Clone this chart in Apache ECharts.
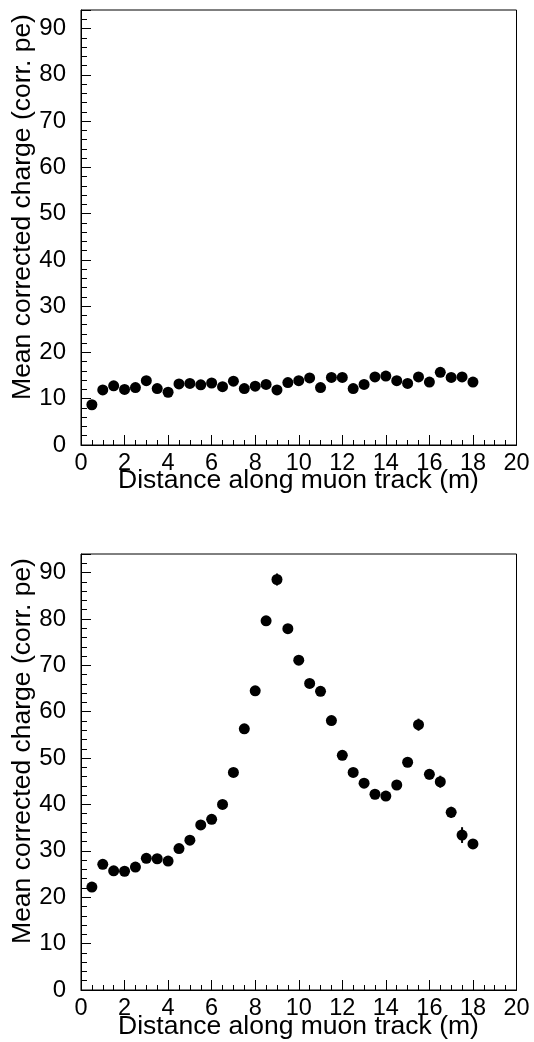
<!DOCTYPE html>
<html>
<head>
<meta charset="utf-8">
<script src="https://cdn.jsdelivr.net/npm/echarts@6/dist/echarts.min.js"></script>
<style>
html,body{margin:0;padding:0;background:#fff;}
#c{width:534px;height:1042px;}
</style>
</head>
<body>
<div id="c"></div>
<script>
// Distance along muon track (m)
var distances = [0.5,1.0,1.5,2.0,2.5,3.0,3.5,4.0,4.5,5.0,5.5,6.0,6.5,7.0,7.5,8.0,8.5,9.0,9.5,10.0,10.5,11.0,11.5,12.0,12.5,13.0,13.5,14.0,14.5,15.0,15.5,16.0,16.5,17.0,17.5,18.0];
// Top panel: mean corrected charge (corr. pe)
var topCharge = [8.7,11.9,12.8,12.0,12.4,13.9,12.2,11.4,13.2,13.3,13.0,13.4,12.6,13.8,12.2,12.7,13.1,11.9,13.5,13.9,14.5,12.4,14.6,14.6,12.2,13.1,14.7,14.9,13.9,13.3,14.7,13.6,15.7,14.6,14.7,13.6];
var topErr = [0.3,0.3,0.3,0.3,0.3,0.3,0.3,0.3,0.3,0.3,0.3,0.3,0.3,0.3,0.3,0.3,0.3,0.3,0.3,0.3,0.3,0.3,0.3,0.3,0.3,0.3,0.3,0.3,0.3,0.3,0.3,0.3,0.4,0.4,0.4,0.4];
// Bottom panel: mean corrected charge (corr. pe)
var botCharge = [22.2,27.1,25.7,25.6,26.5,28.4,28.3,27.8,30.5,32.3,35.6,36.8,40.0,46.9,56.3,64.5,79.6,88.5,77.9,71.1,66.1,64.4,58.1,50.6,46.9,44.6,42.2,41.8,44.2,49.1,57.2,46.5,44.9,38.3,33.4,31.5];
var botErr = [0.4,0.4,0.4,0.4,0.4,0.5,0.5,0.5,0.5,0.5,0.6,0.6,0.6,0.7,0.8,0.9,1.0,1.3,1.0,0.9,0.9,0.9,0.9,0.8,0.8,0.8,0.8,0.8,0.9,1.0,1.3,1.1,1.3,1.2,1.7,1.0];
// Axis settings
var xMin = 0, xMax = 20, xStep = 2;
var yMin = 0, yMax = 94, yStep = 10;
var xTitle = 'Distance along muon track (m)';
var yTitle = 'Mean corrected charge (corr. pe)';

var FONT = 'Liberation Sans, Arial, Helvetica, sans-serif';
var chart = echarts.init(document.getElementById('c'), null, {renderer:'canvas'});

function pts(v){ return distances.map(function(x,i){ return [x, v[i]]; }); }
function errPts(v,e){ return distances.map(function(x,i){ return [x, v[i], e[i]]; }); }

function xAxisCfg(idx){
  return {
    type:'value', gridIndex:idx, min:xMin, max:xMax, interval:xStep,
    axisLine:{show:true, onZero:false, lineStyle:{color:'#000', width:1}},
    axisTick:{show:true, inside:true, length:10, lineStyle:{color:'#000', width:1}},
    minorTick:{show:true, splitNumber:4, length:5, lineStyle:{color:'#000', width:1}},
    axisLabel:{color:'#000', fontSize:23.5, fontFamily:FONT, margin:7, showMinLabel:true, showMaxLabel:true},
    splitLine:{show:false}, minorSplitLine:{show:false}
  };
}
function yAxisCfg(idx){
  return {
    type:'value', gridIndex:idx, min:yMin, max:yMax, interval:yStep,
    axisLine:{show:true, onZero:false, lineStyle:{color:'#000', width:1}},
    axisTick:{show:true, inside:true, length:10, lineStyle:{color:'#000', width:1}},
    minorTick:{show:true, splitNumber:5, length:6, lineStyle:{color:'#000', width:1}},
    axisLabel:{color:'#000', fontSize:24, fontFamily:FONT, margin:15, showMaxLabel:false,
      formatter:function(v){ return (v % 10 === 0) ? String(v) : ''; }},
    splitLine:{show:false}, minorSplitLine:{show:false}
  };
}
function errRender(params, api){
  var x = api.value(0), y = api.value(1), e = api.value(2);
  var p1 = api.coord([x, y - e]), p2 = api.coord([x, y + e]);
  return {type:'line', shape:{x1:p1[0], y1:p1[1], x2:p2[0], y2:p2[1]}, style:{stroke:'#000', lineWidth:2}};
}
function txt(x, y, s, rot){
  return {type:'text', x:x, y:y, rotation:rot||0, silent:true,
    style:{text:s, fill:'#000', font:'26.5px ' + FONT, fontSize:26.5, fontFamily:FONT,
      align:'center', verticalAlign:'middle', textAlign:'center', textVerticalAlign:'middle'}};
}

var option = {
  animation:false,
  backgroundColor:'#fff',
  grid:[
    {left:81, right:17.5, top:10, height:435, show:true, borderColor:'#000', borderWidth:1, backgroundColor:'transparent'},
    {left:81, right:17.5, top:554, height:436, show:true, borderColor:'#000', borderWidth:1, backgroundColor:'transparent'}
  ],
  xAxis:[xAxisCfg(0), xAxisCfg(1)],
  yAxis:[yAxisCfg(0), yAxisCfg(1)],
  series:[
    {type:'custom', xAxisIndex:0, yAxisIndex:0, renderItem:errRender, data:errPts(topCharge, topErr), z:2},
    {type:'scatter', xAxisIndex:0, yAxisIndex:0, symbol:'circle', symbolSize:11, itemStyle:{color:'#000', opacity:1}, data:pts(topCharge), z:3},
    {type:'custom', xAxisIndex:1, yAxisIndex:1, renderItem:errRender, data:errPts(botCharge, botErr), z:2},
    {type:'scatter', xAxisIndex:1, yAxisIndex:1, symbol:'circle', symbolSize:11, itemStyle:{color:'#000', opacity:1}, data:pts(botCharge), z:3}
  ],
  graphic:[
    txt(298.5, 481, xTitle),
    txt(298.5, 1027, xTitle),
    txt(23, 207, yTitle, Math.PI/2),
    txt(23, 751, yTitle, Math.PI/2)
  ]
};
chart.setOption(option);
</script>
</body>
</html>
